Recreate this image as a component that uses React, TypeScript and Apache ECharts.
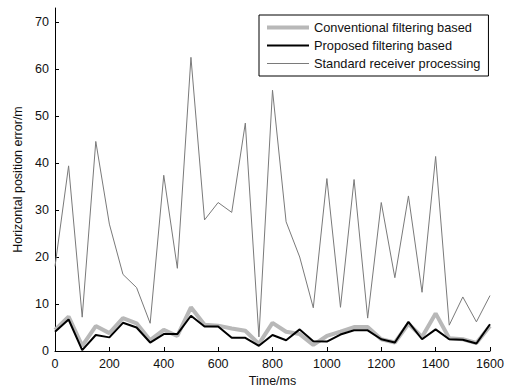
import React, { useEffect, useRef } from "react";
import * as echarts from "echarts";

const times = [0,50,100,150,200,250,300,350,400,450,500,550,600,650,700,750,800,850,900,950,1000,1050,1100,1150,1200,1250,1300,1350,1400,1450,1500,1550,1600];
const conventional = [4.5,7.3,1.1,5.3,3.8,7.0,5.9,2.3,4.5,3.2,9.3,5.6,5.4,4.8,4.3,1.5,6.0,4.1,3.6,1.3,3.2,4.1,5.1,5.1,2.5,1.8,5.8,3.0,8.0,2.7,2.5,1.7,5.3];
const proposed = [4.1,6.7,0.2,3.4,2.9,6.0,5.0,1.8,3.6,3.6,7.5,5.2,5.2,2.8,2.8,1.1,3.4,2.3,4.6,2.1,2.0,3.5,4.4,4.4,2.5,1.8,6.2,2.5,4.6,2.5,2.4,1.6,5.7];
const standard = [18.0,39.4,7.2,44.6,27.0,16.3,13.5,5.9,37.4,17.6,62.5,27.9,31.6,29.5,48.5,3.0,55.5,27.5,20.0,9.2,36.7,9.3,36.5,7.0,31.6,15.6,33.0,12.5,41.4,5.5,11.5,6.2,11.8];
const seriesNames = ["Conventional filtering based", "Proposed filtering based", "Standard receiver processing"];

const FONT = "Liberation Sans, Arial, sans-serif";
const COLORS = ["#b8b8b8", "#000000", "#7a7a7a"];
const WIDTHS = [4, 2, 1];

export default function App() {
  const ref = useRef<HTMLDivElement>(null);
  useEffect(() => {
    if (!ref.current) return;
    const chart = echarts.init(ref.current, null, { renderer: "svg" });
    const mk = (arr: number[]) => times.map((t, i) => [t, arr[i]]);
    const values = [conventional, proposed, standard];
    chart.setOption({
      animation: false,
      backgroundColor: "#fff",
      textStyle: { fontFamily: FONT },
      grid: { left: 55, right: 20, top: 8, bottom: 36, containLabel: false, outerBoundsMode: "none" },
      legend: {
        orient: "vertical",
        left: 259,
        top: 15,
        data: seriesNames.map((n, i) => ({
          name: n,
          itemStyle: { opacity: 0 },
          lineStyle: { color: COLORS[i], width: WIDTHS[i] },
        })),
        itemWidth: 42,
        itemHeight: 14,
        itemGap: 5,
        padding: [6, 8, 6, 6],
        borderColor: "#000",
        borderWidth: 1,
        backgroundColor: "#fff",
        itemStyle: { opacity: 0 },
        textStyle: { fontFamily: FONT, fontSize: 12.8, color: "#111" },
      },
      xAxis: {
        type: "value",
        min: 0,
        max: 1600,
        interval: 200,
        name: "Time/ms",
        nameLocation: "middle",
        nameGap: 20,
        nameTextStyle: { fontFamily: FONT, fontSize: 12.5, color: "#111" },
        axisLine: { lineStyle: { color: "#000", width: 1 } },
        axisTick: { inside: true, length: 4, lineStyle: { color: "#000" } },
        axisLabel: { fontFamily: FONT, fontSize: 12.5, color: "#111", margin: 6, formatter: (v: number) => String(v) },
        splitLine: { show: false },
      },
      yAxis: {
        type: "value",
        min: 0,
        max: 73,
        interval: 10,
        name: "Horizontal position error/m",
        nameLocation: "middle",
        nameGap: 28,
        nameTextStyle: { fontFamily: FONT, fontSize: 12.5, color: "#111" },
        axisLine: { show: true, lineStyle: { color: "#000", width: 1 } },
        axisTick: { show: true, inside: true, length: 4, lineStyle: { color: "#000" } },
        axisLabel: { fontFamily: FONT, fontSize: 12.5, color: "#111", margin: 6, showMaxLabel: false, formatter: (v: number) => String(v) },
        splitLine: { show: false },
      },
      series: seriesNames.map((n, i) => ({
        name: n,
        type: "line",
        data: mk(values[i]),
        symbol: "none",
        lineStyle: { color: COLORS[i], width: WIDTHS[i] },
        itemStyle: { color: COLORS[i] },
        z: 2 + i,
      })),
    });
    return () => chart.dispose();
  }, []);
  return <div ref={ref} style={{ width: 510, height: 387, position: "absolute", left: 0, top: 0 }} />;
}
